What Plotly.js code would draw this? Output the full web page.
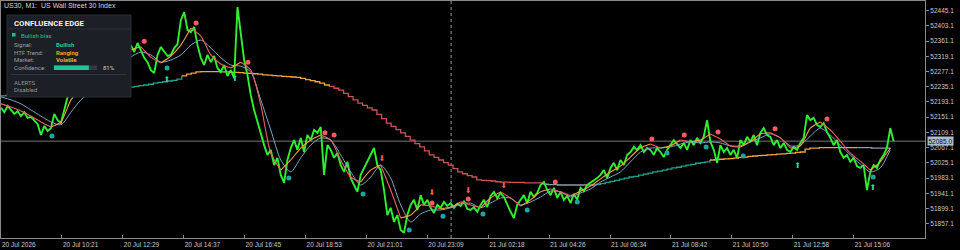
<!DOCTYPE html>
<html><head><meta charset="utf-8">
<script src="https://cdn.plot.ly/plotly-3.0.1.min.js"></script>
<style>html,body{margin:0;padding:0;background:#000;}#chart{width:960px;height:250px;}</style>
</head><body><div id="chart"></div>
<script>
const symbolTitle = 'US30, M1:  US Wall Street 30 Index';
const priceStepBars = 7;
const maStepBars = 21;
const htfStepBars = 10;

const closePrices = [
52177,52165,52182,52171,52160,52168,52154,52165,52149,52152,52141,52132,
52102,52127,52113,52121,52160,52143,52135,52171,52207,52212,52232,52243,
52254,52265,52276,52281,52292,52303,52309,52298,52315,52323,52331,52320,
52337,52345,52331,52350,52331,52356,52337,52315,52303,52281,52273,52323,
52345,52331,52320,52323,52342,52353,52419,52441,52392,52386,52400,52350,
52315,52295,52323,52303,52320,52287,52276,52295,52265,52281,52259,52455,
52378,52309,52268,52212,52171,52138,52102,52074,52047,52061,52019,52039,
51992,51970,52033,52066,52088,52061,52094,52055,52102,52088,52116,52108,
52124,51992,52074,52061,52039,52052,52019,52000,52028,51983,51964,51945,
51992,52011,52028,52047,52066,52019,52005,51950,51881,51901,51862,51881,
51840,51832,51881,51909,51923,51895,51936,51909,51923,51901,51887,51909,
51901,51917,51906,51914,51901,51912,51906,51920,51898,51895,51903,51890,
51909,51923,51903,51934,51945,51928,51942,51931,51909,51890,51873,51909,
51923,51936,51914,51945,51931,51942,51964,51972,51950,51936,51956,51928,
51945,51923,51934,51914,51939,51923,51956,51947,51964,51970,51978,51983,
51992,52005,51983,52011,52025,52005,52033,52019,52047,52055,52069,52061,
52074,52055,52066,52061,52047,52066,52055,52041,52061,52074,52088,52077,
52066,52080,52061,52088,52074,52094,52080,52097,52143,52083,52061,52025,
52074,52055,52066,52047,52061,52039,52088,52074,52097,52083,52102,52074,
52108,52121,52102,52097,52074,52088,52066,52080,52061,52055,52069,52061,
52080,52094,52157,52143,52149,52130,52124,52135,52110,52094,52074,52088,
52055,52039,52047,52028,52039,52016,52011,52019,51950,52000,52019,52011,
52033,52047,52066,52121,52085];

const fastMA = [
52188,52179,52168,52154,52138,52124,52138,52199,52232,52254,
52276,52295,52315,52337,52345,52317,52301,52320,52350,52397,
52375,52323,52298,52287,52303,52281,52185,52052,52005,52033,
52066,52088,52102,52088,52033,51986,51972,52005,52019,51950,
51873,51881,51909,51906,51898,51903,51917,51909,51901,51928,
51945,51928,51906,51923,51945,51953,51945,51934,51947,51961,
51981,52000,52016,52041,52066,52077,52066,52072,52088,52083,
52088,52105,52091,52072,52069,52083,52105,52108,52094,52066,
52072,52121,52138,52116,52085,52052,52030,52005,52028,52066];

const slowMA = [
52207,52199,52188,52171,52154,52138,52130,52165,52199,52221,
52243,52265,52287,52317,52331,52323,52303,52309,52323,52350,
52364,52342,52315,52295,52292,52276,52199,52116,52033,52000,
52039,52074,52094,52088,52047,52000,51964,51986,52019,51983,
51909,51862,51884,51895,51895,51901,51912,51914,51901,51914,
51928,51928,51909,51917,51931,51947,51945,51931,51942,51953,
51972,51986,52000,52028,52055,52066,52066,52069,52077,52083,
52080,52083,52080,52072,52072,52083,52094,52105,52094,52072,
52074,52099,52121,52102,52074,52047,52022,52000,52011,52061];

const htfMA = [
52210,52211,52212,52213,52214,52215,52215,52216,52217,52218,
52219,52220,52221,52222,52223,52224,52224,52225,52226,52227,
52228,52229,52230,52231,52232,52233,52233,52234,52236,52238,
52240,52242,52245,52247,52249,52251,52253,52256,
52265,52270,52273,52276,52277,52277,52277,52277,52276,52276,
52275,52275,52274,52273,52272,52271,52270,52268,52267,52266,
52265,52264,52263,52262,52261,52258,52255,52252,52249,52245,52240,
52236,52231,52226,52217,52208,52199,52190,52184,52177,52171,
52159,52147,52135,52126,52117,52108,52098,52088,52078,52069,
52058,52047,52040,52033,52026,52019,52009,52000,51995,51990,
51986,51978,51977,51976,51975,51973,51972,51972,51971,51971,
51971,51970,51970,51970,51970,
51966,51965,51965,51964,51964,51964,51964,51964,51964,51964,51964,
51966,51968,51971,51974,51977,51980,51983,51986,51988,51991,
51994,51997,52000,52002,52005,52008,52011,52013,52016,52019,
52021,52024,52026,52028,
52033,52034,52035,52036,52037,52038,52040,52041,52043,52044,
52045,52046,52047,52048,52049,52050,52051,52052,52054,52055,
52063,52066,52066,52067,52067,52067,52067,52067,52067,52067,52067,
52067,52067,52067,52066,52066,52066,52066,52066];
const htfStateNames = ['bull','range','bear','flat','bull','range','flat'];
const htfStateLengths = [38,31,45,11,24,31,8];

const sellDotBars   = [301,410,519,681,700,906,982,1165,1368,1436,1507,1627,1736];
const sellDotPrices = [52361,52411,52303,52108,52102,51914,51925,51972,52091,52102,52110,52119,52146];
const sellArrowBars   = [801,906,982,1057];
const sellArrowPrices = [52036,51941,51947,51960];
const buyDotBars   = [107,349,605,761,858,929,1013,1106,1211,1400,1482,1560,1833];
const buyDotPrices = [52099,52287,51983,51939,51840,51878,51884,51895,51917,52052,52069,52044,51986];
const buyArrowBars   = [349,492,1675,1833];
const buyArrowPrices = [52254,52257,52016,51956];

const xTickBars = [0,128,256,384,512,640,768,896,1024,1152,1280,1408,1536,1664,1792];
const xTickLabels = ['20 Jul 2026','20 Jul 10:21','20 Jul 12:29','20 Jul 14:37','20 Jul 16:45','20 Jul 18:53','20 Jul 21:01','20 Jul 23:09','21 Jul 02:18','21 Jul 04:26','21 Jul 06:34','21 Jul 08:42','21 Jul 10:50','21 Jul 12:58','21 Jul 15:06'];
const yTickValues = [51857.1,51899.1,51941.1,51983.1,52025.1,52067.1,52109.1,52151.1,52193.1,52235.1,52277.1,52319.1,52361.1,52403.1,52445.1];
const lastPrice = 52085.0;
const daySeparatorBar = 946;

const panelTitle = 'CONFLUENCE EDGE';
const panelBias = 'Bullish bias';
const panelLabels = ['Signal:','HTF Trend:','Market:','Confidence:'];
const panelValues = ['Bullish','Ranging','Volatile'];
const panelConfidence = 81;
const panelAlertsTitle = 'ALERTS';
const panelAlertsState = 'Disabled';

// ---------- build ----------
const idx = (arr, step) => arr.map((_, i) => i * step);
const closeBars = idx(closePrices, priceStepBars);
const maBars = idx(fastMA, maStepBars);
const htfBars = idx(htfMA, htfStepBars);

const stateColor = {bull:'#1fa38f', range:'#f2a33a', bear:'#cf5252', flat:'#8d9cab'};
const traces = [];

let start = 0;
htfStateNames.forEach((s, n) => {
  const end = Math.min(start + htfStateLengths[n], htfMA.length - 1);
  traces.push({x: htfBars.slice(start, end + 1), y: htfMA.slice(start, end + 1), mode:'lines',
    line:{color: stateColor[s], width:1.3, shape:'hv'}, hoverinfo:'skip'});
  start += htfStateLengths[n];
});

traces.push({x: closeBars, y: closePrices, mode:'lines', line:{color:'#2ef02e', width:1.9}, hoverinfo:'skip'});
traces.push({x: maBars, y: slowMA, mode:'lines', line:{color:'#7fa6c2', width:1, shape:'spline', smoothing:0.7}, hoverinfo:'skip'});

for (let i = 0; i < fastMA.length - 1;) {
  const up = fastMA[i + 1] >= fastMA[i];
  let j = i;
  while (j < fastMA.length - 1 && (fastMA[j + 1] >= fastMA[j]) === up) j++;
  traces.push({x: maBars.slice(i, j + 1), y: fastMA.slice(i, j + 1), mode:'lines',
    line:{color: up ? '#f0a044' : '#ea6360', width:1.1, shape:'spline', smoothing:0.7}, hoverinfo:'skip'});
  i = j;
}

const arrowFont = 'DejaVu Sans, sans-serif';
traces.push({x: sellDotBars, y: sellDotPrices, mode:'markers', marker:{color:'#f25c5c', size:5}, hoverinfo:'skip'});
traces.push({x: sellArrowBars, y: sellArrowPrices, mode:'text', text: sellArrowBars.map(() => '\u2B07'), textposition:'middle center',
  textfont:{family: arrowFont, size:8, color:'#f25c5c'}, hoverinfo:'skip'});
traces.push({x: buyDotBars, y: buyDotPrices, mode:'markers', marker:{color:'#1aa7a0', size:5}, hoverinfo:'skip'});
traces.push({x: buyArrowBars, y: buyArrowPrices, mode:'text', text: buyArrowBars.map(() => '\u2B06'), textposition:'middle center',
  textfont:{family: arrowFont, size:8, color:'#2fd19c'}, hoverinfo:'skip'});

// pixel helpers for layout placement (plot area px 1..925 x 1..238)
const PX = p => (p - 1) / 924;
const PY = p => (238 - p) / 237;

const shapes = [
  {type:'line', xref:'paper', yref:'y', x0:0, x1:1, y0:lastPrice, y1:lastPrice, line:{color:'#777', width:1}, layer:'below'},
  {type:'line', xref:'x', yref:'paper', x0:daySeparatorBar, x1:daySeparatorBar, y0:0, y1:1, line:{color:'#9a9a9a', width:1, dash:'dot'}, layer:'below'},
  {type:'rect', xref:'paper', yref:'paper', x0:PX(7), x1:PX(131), y0:PY(97), y1:PY(15), fillcolor:'#1c1f25', line:{color:'#2a2e36', width:1}, layer:'above'},
  {type:'line', xref:'paper', yref:'paper', x0:PX(8), x1:PX(130), y0:PY(29), y1:PY(29), line:{color:'#2a2e36', width:1}, layer:'above'},
  {type:'rect', xref:'paper', yref:'paper', x0:PX(12), x1:PX(15.5), y0:PY(36.5), y1:PY(33), fillcolor:'#1fc08f', line:{width:0}, layer:'above'},
  {type:'rect', xref:'paper', yref:'paper', x0:PX(54), x1:PX(97), y0:PY(70), y1:PY(65.5), fillcolor:'#343941', line:{width:0}, layer:'above'},
  {type:'rect', xref:'paper', yref:'paper', x0:PX(54), x1:PX(54 + 43 * panelConfidence / 100), y0:PY(70), y1:PY(65.5), fillcolor:'#1fc795', line:{width:0}, layer:'above'},
  {type:'line', xref:'paper', yref:'paper', x0:PX(11), x1:PX(127), y0:PY(74.5), y1:PY(74.5), line:{color:'#30343c', width:1}, layer:'above'}
];

const pf = 'Roboto, Liberation Sans, sans-serif';
const ann = (text, px, py, color, size, bold) => ({text: bold ? '<b>' + text + '</b>' : text, xref:'paper', yref:'paper',
  x: PX(px), y: PY(py), xanchor:'left', yanchor:'middle', showarrow:false, font:{family:pf, size, color}});
const valueColors = ['#22c39a', '#f0a323', '#f0b020'];
const annotations = [
  {text: symbolTitle, xref:'paper', yref:'paper', x: PX(1.5), y: PY(5.5), xanchor:'left', yanchor:'middle', showarrow:false,
   font:{family:'Liberation Sans, Arial, sans-serif', size:7, color:'#d8d8d8'}},
  ann(panelTitle, 12, 23.5, '#f2f2f2', 7.8, true),
  ann(panelBias, 18.5, 35, '#22c39a', 6),
  ...panelLabels.map((t, i) => ann(t, 12, 45 + i * 7.5, '#9aa0a8', 6)),
  ...panelValues.map((t, i) => ann(t, 54, 45 + i * 7.5, valueColors[i], 6, true)),
  ann(panelConfidence + '%', 101, 67.6, '#d0d0d0', 6),
  ann(panelAlertsTitle, 12, 82, '#8d939b', 6),
  ann(panelAlertsState, 12, 89, '#8d939b', 6),
  {text: lastPrice.toFixed(1), xref:'paper', yref:'y', x:1, y:lastPrice, xanchor:'left', yanchor:'middle', xshift:2,
   showarrow:false, bgcolor:'#a9bdd2', borderpad:0.5, font:{family:'Liberation Sans, Arial, sans-serif', size:6.5, color:'#101010'}}
];

const layout = {
  width:960, height:250, margin:{l:1, r:35, t:1, b:12, pad:0},
  paper_bgcolor:'#000', plot_bgcolor:'#000', showlegend:false,
  font:{family:'Liberation Sans, Arial, sans-serif', size:6.5, color:'#c8c8c8'},
  xaxis:{range:[0,1942], tickmode:'array', tickvals:xTickBars, ticktext:xTickLabels, ticks:'inside', ticklen:3, tickcolor:'#8a8a8a',
    showgrid:false, zeroline:false, showline:true, linecolor:'#8a8a8a', linewidth:1, mirror:true,
    ticklabelposition:'outside right', tickfont:{size:6.5, color:'#c8c8c8'}, fixedrange:true},
  yaxis:{range:[51817.7,52471.8], side:'right', tickmode:'array', tickvals:yTickValues, ticktext:yTickValues.map(v => v.toFixed(1)),
    ticks:'outside', ticklen:3, tickcolor:'#8a8a8a', showgrid:false, zeroline:false, showline:true, linecolor:'#8a8a8a', linewidth:1, mirror:true,
    tickfont:{size:6.5, color:'#c8c8c8'}, fixedrange:true},
  shapes, annotations
};

Plotly.newPlot('chart', traces.map(t => Object.assign({showlegend:false}, t)), layout, {staticPlot:true, displayModeBar:false});
</script></body></html>
